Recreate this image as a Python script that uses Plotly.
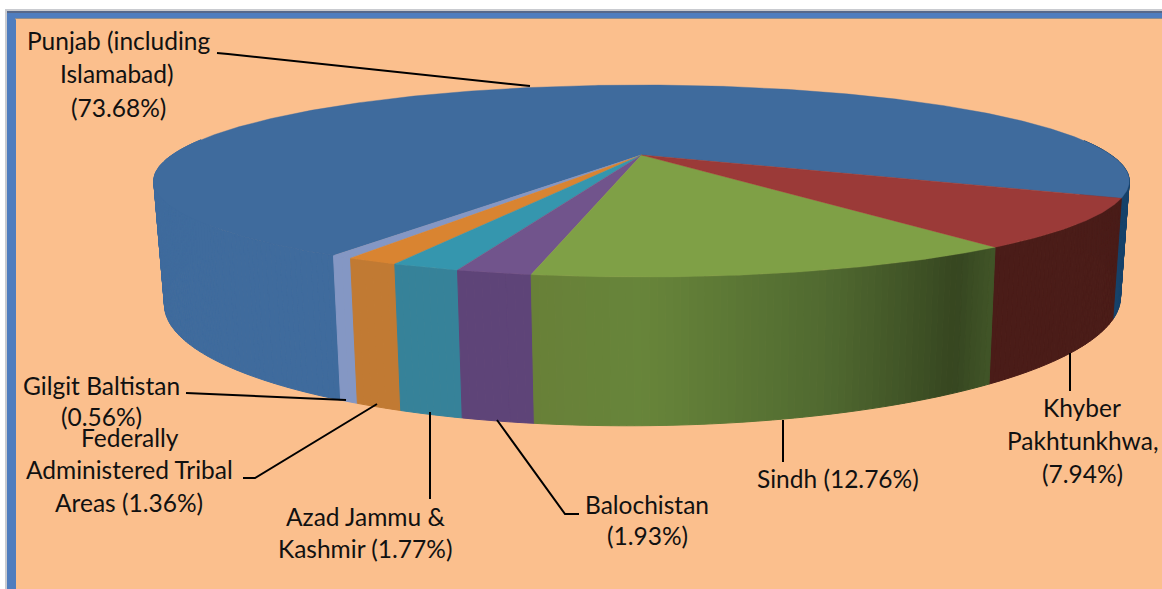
import math
import plotly.graph_objects as go

# ---- data ----
regions = ["Punjab (including Islamabad)", "Gilgit Baltistan", "Federally Administered Tribal Areas",
           "Azad Jammu & Kashmir", "Balochistan", "Sindh", "Khyber Pakhtunkhwa"]
shares = [73.68, 0.56, 1.36, 1.77, 1.93, 12.76, 7.94]
top_colors = ["#3F6B9D", "#8497C4", "#D98431", "#3596AE", "#71548C", "#7FA046", "#9B3A38"]
side_stops = [
    [(-110, (63, 107, 157)), (-30, (63, 107, 157))],
    [(-40, (132, 151, 196)), (0, (132, 151, 196))],
    [(-40, (193, 122, 51)), (0, (193, 122, 51))],
    [(-40, (54, 130, 153)), (0, (54, 130, 153))],
    [(-40, (94, 68, 120)), (0, (94, 68, 120))],
    [(-10, (104, 128, 56)), (0, (103, 133, 58)), (17, (80, 105, 48)), (31, (54, 70, 32)), (36, (65, 85, 40))],
    [(30, (74, 28, 24)), (70, (74, 28, 24))],
]
punjab_right_side = (23, 66, 106)

labels = [
    ("Punjab (including", 118, 40), ("Islamabad)", 117, 73), ("(73.68%)", 118, 107),
    ("Gilgit Baltistan", 101, 385), ("(0.56%)", 101, 416),
    ("Federally", 130, 437), ("Administered Tribal", 129, 469), ("Areas (1.36%)", 129, 502),
    ("Azad Jammu &", 365, 516), ("Kashmir (1.77%)", 365, 548),
    ("Balochistan", 647, 504), ("(1.93%)", 647, 535),
    ("Sindh (12.76%)", 838, 478),
    ("Khyber", 1082, 407), ("Pakhtunkhwa,", 1082, 440), ("(7.94%)", 1082, 473),
]
leaders = [
    [(217, 53), (228, 54), (530, 86)],
    [(186, 393), (346, 400)],
    [(243, 478), (255, 478), (377, 404)],
    [(430, 412), (430, 499)],
    [(497, 420), (565, 514), (579, 514)],
    [(783, 420), (783, 462)],
    [(1070, 353), (1070, 391)],
]

# ---- view of the tilted disc ----
CX, CY, A, B, K = 641.5, 155.0, 469.5, 89.0, -0.271
START = 64.6
BOT_SX, BOT_SY, BOT_CY, BOT_TILT, BOT_DX = 0.98, 1.3, 267.0, 0.008, 1.0


def top_pt(t):
    X, Y = math.sin(math.radians(t)), math.cos(math.radians(t))
    w = 1 + K * Y
    return CX + A * X / w, CY + B * Y / w


def bot_pt(t):
    X, Y = math.sin(math.radians(t)), math.cos(math.radians(t))
    w = 1 + K * Y
    dx = BOT_SX * A * X / w
    return CX + BOT_DX + dx, BOT_CY + BOT_SY * B * Y / w - BOT_TILT * dx


def color_at(stops, t):
    if t <= stops[0][0]:
        c = stops[0][1]
    elif t >= stops[-1][0]:
        c = stops[-1][1]
    else:
        for (a, ca), (b, cb) in zip(stops, stops[1:]):
            if a <= t <= b:
                f = (t - a) / (b - a)
                c = tuple(ca[i] + f * (cb[i] - ca[i]) for i in range(3))
                break
    return "rgb(%d,%d,%d)" % tuple(round(v) for v in c)


def norm(t):
    return (t + 180) % 360 - 180


fig = go.Figure()
strips, tops = [], []
angle = START
for i, v in enumerate(shares):
    span = v * 3.6
    a0, a1 = angle, angle + span
    n = max(2, int(span / 0.5))
    arc = [a0 + span * j / n for j in range(n + 1)]
    xs, ys = zip(*[top_pt(t) for t in arc])
    tops.append((regions[i], [CX, *xs, CX], [CY, *ys, CY], top_colors[i]))
    step = 0.7
    m = max(1, int(span / step))
    for j in range(m):
        t0, t1 = a0 + span * j / m, a0 + span * (j + 1) / m
        mid = norm((t0 + t1) / 2)
        if abs(mid) > 100:
            continue
        if i == 0 and mid > 0:
            col = "rgb(%d,%d,%d)" % punjab_right_side
        else:
            col = color_at(side_stops[i], mid)
        p = [top_pt(t0), top_pt(t1), bot_pt(t1), bot_pt(t0), top_pt(t0)]
        strips.append((abs(mid), regions[i], [q[0] for q in p], [q[1] for q in p], col))
    angle = a1

for _, name, x, y, col in sorted(strips, key=lambda s: -s[0]):
    fig.add_trace(go.Scatter(x=x, y=y, mode="lines", fill="toself", fillcolor=col,
                             line=dict(color=col, width=1), name=name, hoverinfo="name", showlegend=False))
for name, x, y, col in tops:
    fig.add_trace(go.Scatter(x=x, y=y, mode="lines", fill="toself", fillcolor=col,
                             line=dict(color=col, width=0.4), name=name, hoverinfo="name", showlegend=False))
for pts in leaders:
    fig.add_trace(go.Scatter(x=[p[0] for p in pts], y=[p[1] for p in pts], mode="lines",
                             line=dict(color="#000000", width=2), hoverinfo="skip", showlegend=False))

annotations = [dict(x=x, y=y, text=t, showarrow=False, xanchor="center", yanchor="middle",
                    font=dict(family="Lato", size=24.5, color="#111111")) for t, x, y in labels]
annotations += [
    dict(x=10, y=3, yshift=2, text="Figure", showarrow=False, xanchor="left", yanchor="bottom",
         font=dict(family="Liberation Serif", size=27, color="#000000")),
    dict(x=505, y=3, yshift=2, text="Employ", showarrow=False, xanchor="left", yanchor="bottom",
         font=dict(family="Liberation Serif", size=27, color="#000000")),
]


def rect(x0, y0, x1, y1, col):
    return dict(type="rect", x0=x0, y0=y0, x1=x1, y1=y1, fillcolor=col, line=dict(width=0), layer="below")


shapes = [
    rect(5, 9, 1162, 589, "#C9CBD0"),
    rect(7, 11, 1162, 589, "#4F7DBE"),
    rect(7, 11, 1162, 13, "#56688A"),
    rect(15, 18, 1162, 20, "#8F8F8F"),
    rect(16, 19, 1162, 589, "#FBBF8D"),
]

fig.update_layout(
    width=1162, height=589, margin=dict(l=0, r=0, t=0, b=0),
    paper_bgcolor="#FFFFFF", plot_bgcolor="#FFFFFF",
    xaxis=dict(range=[0, 1162], visible=False, fixedrange=True),
    yaxis=dict(range=[589, 0], visible=False, fixedrange=True),
    annotations=annotations, shapes=shapes, showlegend=False,
)
fig.write_html("out.html", config=dict(displayModeBar=False),
               post_script="document.body.style.margin='0';document.documentElement.style.overflow='hidden';")
